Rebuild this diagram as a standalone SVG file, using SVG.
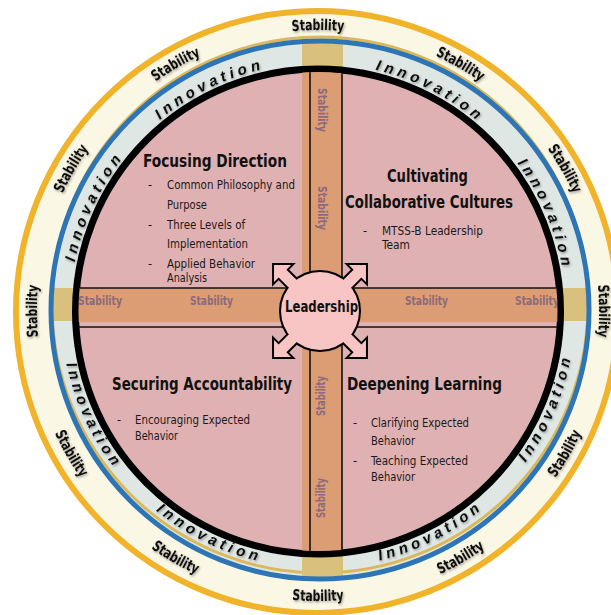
<svg xmlns="http://www.w3.org/2000/svg" width="611" height="615" viewBox="0 0 611 615">
<defs>
<style>
.n{font-family:'Liberation Sans Narrow','DejaVu Sans Condensed','Liberation Sans',sans-serif}
.title{font-size:18px;font-weight:bold;fill:#111}
.item{font-size:12.5px;fill:#1a1a1a}
.bar{font-size:12.5px;font-weight:bold;fill:#8a6a7c}
.stab{font-size:15px;font-weight:bold;fill:#111}
.inno{font-family:'Liberation Sans',sans-serif;font-size:15px;font-weight:bold;font-style:italic;fill:#111;letter-spacing:4.2px}
.lead{fill:#f9c4c4}
</style>
<clipPath id="inner"><circle cx="318" cy="311.5" r="239.5"/></clipPath>
<clipPath id="band"><circle cx="320" cy="310" r="267"/></clipPath>
<path id="cwS" d="M318,592 A281,281 0 1 1 318,30 A281,281 0 1 1 318,592"/>
<path id="ccwS" d="M318,21 A290,290 0 1 0 318,601 A290,290 0 1 0 318,21"/>
<path id="cwI" d="M318,559 A248,248 0 1 1 318,63 A248,248 0 1 1 318,559"/>
<path id="ccwI" d="M318,54 A257,257 0 1 0 318,568 A257,257 0 1 0 318,54"/>
<path id="arr" d="M0,-65 L12,-53 L5.5,-53 L5.5,-32 L-5.5,-32 L-5.5,-53 L-12,-53 Z"/>
<filter id="sh" x="-20%" y="-20%" width="140%" height="140%"><feDropShadow dx="1" dy="1.5" stdDeviation="1" flood-color="#000" flood-opacity="0.35"/></filter>
</defs>
<rect width="611" height="615" fill="#fff"/>
<g id="rings">
<circle cx="317" cy="312" r="301" fill="#fbf7e5" stroke="#f0b32a" stroke-width="6"/>
<circle cx="320" cy="310" r="268" fill="#dfe7e5"/>
<circle cx="320" cy="305" r="268" fill="none" stroke="#dcb85a" stroke-width="3"/>
<g clip-path="url(#band)" fill="#d9c07c"><rect x="302" y="30" width="41" height="560"/><rect x="40" y="288" width="560" height="33"/></g>
<circle cx="320" cy="310" r="269" fill="none" stroke="#2e75b6" stroke-width="5"/>
<circle cx="318" cy="311.5" r="242.5" fill="#e0b1b2" stroke="#000" stroke-width="7"/>
</g>
<g id="connectors" clip-path="url(#inner)">
<rect x="302" y="60" width="40" height="500" fill="#dc9c74"/>
<rect x="70" y="288" width="500" height="34" fill="#dc9c74"/>
<g stroke="#111" stroke-width="1.6">
<line x1="310" y1="60" x2="310" y2="560"/><line x1="342" y1="60" x2="342" y2="560"/>
<line x1="70" y1="288" x2="570" y2="288"/><line x1="70" y1="327" x2="570" y2="327"/>
</g>
<g class="n bar">
<text x="78" y="305" textLength="44" lengthAdjust="spacingAndGlyphs">Stability</text>
<text x="190" y="305" textLength="43" lengthAdjust="spacingAndGlyphs">Stability</text>
<text x="405" y="305" textLength="43" lengthAdjust="spacingAndGlyphs">Stability</text>
<text x="515" y="305" textLength="44" lengthAdjust="spacingAndGlyphs">Stability</text>
<text transform="translate(322,110) rotate(90)" x="0" y="4" text-anchor="middle" textLength="44" lengthAdjust="spacingAndGlyphs">Stability</text>
<text transform="translate(322,208) rotate(90)" x="0" y="4" text-anchor="middle" textLength="44" lengthAdjust="spacingAndGlyphs">Stability</text>
<text transform="translate(321,396) rotate(-90)" x="0" y="4" text-anchor="middle" textLength="40" lengthAdjust="spacingAndGlyphs">Stability</text>
<text transform="translate(321,498) rotate(-90)" x="0" y="4" text-anchor="middle" textLength="40" lengthAdjust="spacingAndGlyphs">Stability</text>
</g>
</g>
<g id="leadership">
<g class="lead" stroke="#000" stroke-width="4">
<circle cx="320" cy="311" r="39"/>
<use href="#arr" transform="translate(320,311) rotate(-45)"/>
<use href="#arr" transform="translate(320,311) rotate(45)"/>
<use href="#arr" transform="translate(320,311) rotate(135)"/>
<use href="#arr" transform="translate(320,311) rotate(-135)"/>
</g>
<g class="lead">
<circle cx="320" cy="311" r="39"/>
<use href="#arr" transform="translate(320,311) rotate(-45)"/>
<use href="#arr" transform="translate(320,311) rotate(45)"/>
<use href="#arr" transform="translate(320,311) rotate(135)"/>
<use href="#arr" transform="translate(320,311) rotate(-135)"/>
</g>
<text class="n" x="321.5" y="312" text-anchor="middle" font-size="16" font-weight="bold" fill="#111" textLength="73" lengthAdjust="spacingAndGlyphs">Leadership</text>
</g>
<g id="focusing" class="n">
<text class="title" x="143" y="167" textLength="144" lengthAdjust="spacingAndGlyphs">Focusing Direction</text>
<g class="item">
<text x="148" y="189">-</text><text x="167" y="189" textLength="128" lengthAdjust="spacingAndGlyphs">Common Philosophy and</text>
<text x="167" y="209" textLength="40" lengthAdjust="spacingAndGlyphs">Purpose</text>
<text x="148" y="229">-</text><text x="167" y="229" textLength="78" lengthAdjust="spacingAndGlyphs">Three Levels of</text>
<text x="167" y="248" textLength="81" lengthAdjust="spacingAndGlyphs">Implementation</text>
<text x="148" y="268">-</text><text x="167" y="268" textLength="88" lengthAdjust="spacingAndGlyphs">Applied Behavior</text>
<text x="167" y="282" textLength="40" lengthAdjust="spacingAndGlyphs">Analysis</text>
</g>
</g>
<g id="cultivating" class="n">
<text class="title" x="427.5" y="182" text-anchor="middle" textLength="81" lengthAdjust="spacingAndGlyphs">Cultivating</text>
<text class="title" x="429" y="208" text-anchor="middle" textLength="168" lengthAdjust="spacingAndGlyphs">Collaborative Cultures</text>
<g class="item">
<text x="363" y="235">-</text><text x="382" y="235" textLength="101" lengthAdjust="spacingAndGlyphs">MTSS-B Leadership</text>
<text x="382" y="249" textLength="28" lengthAdjust="spacingAndGlyphs">Team</text>
</g>
</g>
<g id="securing" class="n">
<text class="title" x="112" y="390" textLength="180" lengthAdjust="spacingAndGlyphs">Securing Accountability</text>
<g class="item">
<text x="117" y="424">-</text><text x="135" y="424" textLength="115" lengthAdjust="spacingAndGlyphs">Encouraging Expected</text>
<text x="135" y="440" textLength="43" lengthAdjust="spacingAndGlyphs">Behavior</text>
</g>
</g>
<g id="deepening" class="n">
<text class="title" x="347" y="390" textLength="155" lengthAdjust="spacingAndGlyphs">Deepening Learning</text>
<g class="item">
<text x="353" y="427">-</text><text x="371" y="427" textLength="98" lengthAdjust="spacingAndGlyphs">Clarifying Expected</text>
<text x="371" y="445" textLength="44" lengthAdjust="spacingAndGlyphs">Behavior</text>
<text x="353" y="465">-</text><text x="371" y="465" textLength="97" lengthAdjust="spacingAndGlyphs">Teaching Expected</text>
<text x="371" y="481" textLength="44" lengthAdjust="spacingAndGlyphs">Behavior</text>
</g>
</g>
<g id="outer-stability" class="n stab" filter="url(#sh)" text-anchor="middle">
<text><textPath href="#cwS" startOffset="25%" textLength="52" lengthAdjust="spacingAndGlyphs">Stability</textPath></text>
<text><textPath href="#cwS" startOffset="33.333%" textLength="52" lengthAdjust="spacingAndGlyphs">Stability</textPath></text>
<text><textPath href="#cwS" startOffset="41.667%" textLength="52" lengthAdjust="spacingAndGlyphs">Stability</textPath></text>
<text><textPath href="#cwS" startOffset="50%" textLength="52" lengthAdjust="spacingAndGlyphs">Stability</textPath></text>
<text><textPath href="#cwS" startOffset="58.333%" textLength="52" lengthAdjust="spacingAndGlyphs">Stability</textPath></text>
<text><textPath href="#cwS" startOffset="66.667%" textLength="52" lengthAdjust="spacingAndGlyphs">Stability</textPath></text>
<text><textPath href="#cwS" startOffset="75%" textLength="52" lengthAdjust="spacingAndGlyphs">Stability</textPath></text>
<text><textPath href="#ccwS" startOffset="33.333%" textLength="52" lengthAdjust="spacingAndGlyphs">Stability</textPath></text>
<text><textPath href="#ccwS" startOffset="41.667%" textLength="52" lengthAdjust="spacingAndGlyphs">Stability</textPath></text>
<text><textPath href="#ccwS" startOffset="50%" textLength="52" lengthAdjust="spacingAndGlyphs">Stability</textPath></text>
<text><textPath href="#ccwS" startOffset="58.333%" textLength="52" lengthAdjust="spacingAndGlyphs">Stability</textPath></text>
<text><textPath href="#ccwS" startOffset="66.667%" textLength="52" lengthAdjust="spacingAndGlyphs">Stability</textPath></text>
</g>
<g id="innovation" class="inno" filter="url(#sh)" text-anchor="middle">
<text><textPath href="#cwI" startOffset="31.94%">Innovation</textPath></text>
<text><textPath href="#cwI" startOffset="42.78%">Innovation</textPath></text>
<text><textPath href="#cwI" startOffset="57.5%">Innovation</textPath></text>
<text><textPath href="#cwI" startOffset="68.61%">Innovation</textPath></text>
<text><textPath href="#ccwI" startOffset="31.94%">Innovation</textPath></text>
<text><textPath href="#ccwI" startOffset="42.78%">Innovation</textPath></text>
<text><textPath href="#ccwI" startOffset="57.5%">Innovation</textPath></text>
<text><textPath href="#ccwI" startOffset="68.61%">Innovation</textPath></text>
</g>
</svg>
